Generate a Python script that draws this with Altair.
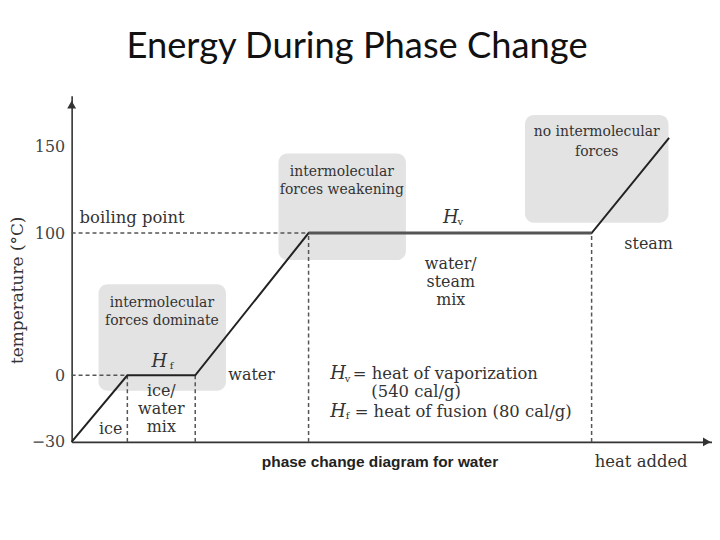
import altair as alt
import pandas as pd

# ---------------- data ----------------
# heating curve (heat added in relative schematic units, temperature in °C)
curve_heat = [0, 8.7, 19.3, 37.0, 81.2, 93.3]
curve_temp = [-30, 0, 0, 100, 100, 155]

y_tick_values = [-30, 0, 100, 150]

# shaded "intermolecular forces" boxes
box_x1 = [4.2, 32.3, 70.8]
box_x2 = [24.1, 52.2, 93.2]
box_y1 = [-7, 81, 106]
box_y2 = [64, 146, 168]

# dashed guide lines
guide_x1 = [0, 0, 8.7, 19.3, 37.0, 81.2]
guide_x2 = [37.0, 8.7, 8.7, 19.3, 37.0, 81.2]
guide_y1 = [100, 0, -30, -30, -30, -30]
guide_y2 = [100, 0, 0, 0, 100, 100]

# labels inside the shaded boxes (smaller type)
b_text = ["intermolecular", "forces dominate", "intermolecular", "forces weakening",
          "no intermolecular", "forces"]
b_x = [14.1, 14.1, 42.2, 42.2, 82.0, 82.0]
b_y = [51.0, 37.8, 135.1, 124.7, 158.5, 146.6]

# phase labels (centered)
c_text = ["water/", "steam", "mix", "steam", "ice/", "water", "mix", "water", "ice"]
c_x = [59.2, 59.2, 59.2, 90.1, 14.0, 14.0, 14.0, 28.1, 6.1]
c_y = [78.0, 65.4, 52.8, 92.3, -7.2, -15.2, -23.3, 0, -24.2]

# left aligned labels
l_text = ["boiling point", "= heat of vaporization", "(540 cal/g)",
          "= heat of fusion (80 cal/g)", "heat added"]
l_x = [1.24, 43.9, 46.8, 44.2, 81.7]
l_y = [108.6, 0.7, -7.6, -16.4, -39.0]

# italic H symbols and their subscripts
h_x = [59.2, 13.7, 41.6, 41.6]
h_y = [108.6, 9.1, 0.7, -16.4]
sub_text = ["v", "f", "v", "f"]
sub_x = [60.7, 15.6, 43.1, 43.1]
sub_y = [106.3, 6.8, -1.5, -18.3]

caption = ["phase change diagram for water"]
caption_x = [29.7]
caption_y = [-39.0]

# arrow heads at the axis ends
arrow_shape = ["triangle-up", "triangle-right"]
arrow_x = [0, 99.2]
arrow_y = [174, -30]

# ---------------- chart ----------------
xs = alt.Scale(domain=[0, 100], nice=False, zero=False)
ys = alt.Scale(domain=[-30, 0, 100, 150, 179], range=[348, 281, 138, 51, 0])

serif = "DejaVu Serif"
x_axis = alt.Axis(title="", labels=False, ticks=False, grid=False,
                  domain=True, domainColor="#333", domainWidth=1.6)
y_axis = alt.Axis(values=y_tick_values, title="temperature (°C)", ticks=False,
                  grid=False, domain=True, domainColor="#333", domainWidth=1.6,
                  labelExpr="datum.value == -30 ? '\u221230' : datum.label",
                  labelFont=serif, labelFontSize=16, labelColor="#444",
                  labelPadding=7, titleFont=serif, titleFontSize=17,
                  titleFontWeight="normal", titleColor="#333", titleAngle=-90,
                  titleX=-54, titleY=195, titleAlign="center", titleBaseline="middle")


def X(f):
    return alt.X(f, type="quantitative", scale=xs, axis=x_axis)


def Y(f):
    return alt.Y(f, type="quantitative", scale=ys, axis=y_axis)


boxes = pd.DataFrame({"x": box_x1, "x2": box_x2, "y": box_y1, "y2": box_y2})
guides = pd.DataFrame({"x": guide_x1, "x2": guide_x2, "y": guide_y1, "y2": guide_y2})
curve = pd.DataFrame({"x": curve_heat, "y": curve_temp, "o": list(range(len(curve_heat)))})
plateau = pd.DataFrame({"x": [curve_heat[3]], "x2": [curve_heat[4]], "y": [curve_temp[3]]})
btext = pd.DataFrame({"x": b_x, "y": b_y, "t": b_text})
ctext = pd.DataFrame({"x": c_x, "y": c_y, "t": c_text})
ltext = pd.DataFrame({"x": l_x, "y": l_y, "t": l_text})
htext = pd.DataFrame({"x": h_x, "y": h_y, "t": ["H"] * len(h_x)})
stext = pd.DataFrame({"x": sub_x, "y": sub_y, "t": sub_text})
cap = pd.DataFrame({"x": caption_x, "y": caption_y, "t": caption})
arrows = pd.DataFrame({"x": arrow_x, "y": arrow_y, "s": arrow_shape})

box_layer = alt.Chart(boxes).mark_rect(cornerRadius=9, color="#e3e3e3").encode(
    x=X("x"), x2="x2", y=Y("y"), y2="y2")

guide_layer = alt.Chart(guides).mark_rule(strokeDash=[4, 3], strokeWidth=1.5, color="#555").encode(
    x=X("x"), x2="x2", y=Y("y"), y2="y2")

curve_layer = alt.Chart(curve).mark_line(color="#222", strokeWidth=2).encode(
    x=X("x"), y=Y("y"), order="o:Q")

plateau_layer = alt.Chart(plateau).mark_rule(color="#555", strokeWidth=3).encode(
    x=X("x"), x2="x2", y=Y("y"))

btext_layer = alt.Chart(btext).mark_text(font=serif, fontSize=14, color="#333",
                                          align="center", baseline="middle").encode(
    x=X("x"), y=Y("y"), text="t:N")
ctext_layer = alt.Chart(ctext).mark_text(font=serif, fontSize=16, color="#333",
                                          align="center", baseline="middle").encode(
    x=X("x"), y=Y("y"), text="t:N")
ltext_layer = alt.Chart(ltext).mark_text(font=serif, fontSize=16.5, color="#333",
                                          align="left", baseline="middle").encode(
    x=X("x"), y=Y("y"), text="t:N")
h_layer = alt.Chart(htext).mark_text(font=serif, fontSize=18, fontStyle="italic", color="#333",
                                      align="center", baseline="middle").encode(
    x=X("x"), y=Y("y"), text="t:N")
sub_layer = alt.Chart(stext).mark_text(font=serif, fontSize=10, color="#333",
                                        align="center", baseline="middle").encode(
    x=X("x"), y=Y("y"), text="t:N")
cap_layer = alt.Chart(cap).mark_text(font="Liberation Sans", fontSize=15.5, fontWeight="bold",
                                      color="#222", align="left", baseline="middle").encode(
    x=X("x"), y=Y("y"), text="t:N")
arrow_layer = alt.Chart(arrows).mark_point(filled=True, size=80, color="#333", opacity=1).encode(
    x=X("x"), y=Y("y"),
    shape=alt.Shape("s:N", scale=alt.Scale(domain=arrow_shape, range=arrow_shape), legend=None))

chart = alt.layer(
    box_layer, guide_layer, curve_layer, plateau_layer, btext_layer, ctext_layer,
    ltext_layer, h_layer, sub_layer, cap_layer, arrow_layer
).properties(
    width=644, height=348,
    title=alt.TitleParams("Energy During Phase Change", font="Lato", fontSize=36.5,
                          fontWeight="normal", color="#111", anchor="middle",
                          offset=31, dx=-35),
    autosize=alt.AutoSizeParams(type="none"),
    padding={"left": 64, "top": 87, "right": 0, "bottom": 40},
).configure_view(stroke=None)

chart.save("out.html", embed_options={"renderer": "svg", "actions": False})
